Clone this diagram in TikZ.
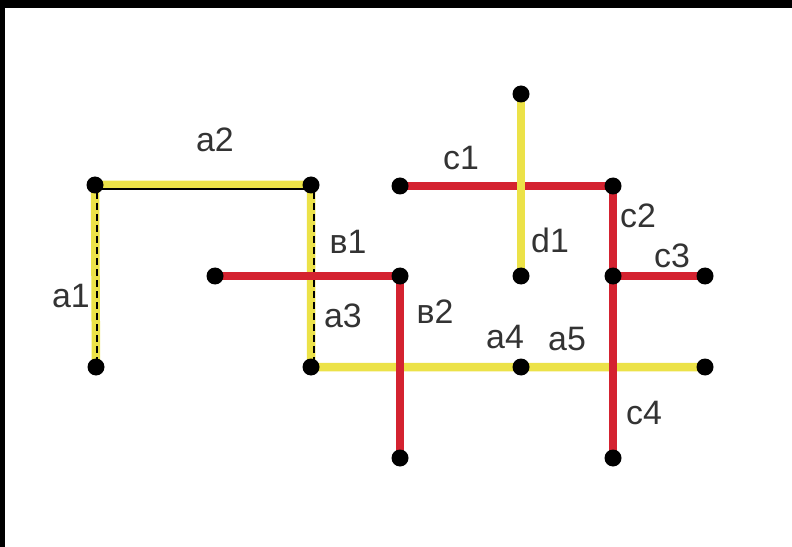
\documentclass[tikz,border=0pt]{standalone}
\usepackage{fontspec}
\setmainfont{Liberation Sans}
\definecolor{ylw}{RGB}{236,226,72}
\definecolor{rd}{RGB}{212,34,48}
\tikzset{
  yline/.style={draw=ylw,line width=8.5bp},
  rline/.style={draw=rd,line width=8.5bp},
  thinblack/.style={draw=black,line width=1.8bp},
  dashblack/.style={draw=black,line width=1.4bp,dash pattern=on 7bp off 4bp},
  dot/.style={circle,fill=black,inner sep=0pt,minimum size=17bp},
  lbl/.style={font=\fontsize{34}{34}\selectfont,inner sep=0pt,text=black!80}
}
\begin{document}
\begin{tikzpicture}[x=1bp,y=-1bp]
\useasboundingbox (0,0) rectangle (792,547);
\fill[white] (0,0) rectangle (792,547);
\fill[black] (0,0) rectangle (792,8);
\fill[black] (0,0) rectangle (5,547);
% points
\coordinate (A) at (95,185);
\coordinate (B) at (311,185);
\coordinate (C) at (96,367);
\coordinate (D) at (311,367);
\coordinate (E) at (521,367);
\coordinate (F) at (705,367);
\coordinate (G) at (521,94);
\coordinate (H) at (521,276);
\coordinate (I) at (400,186);
\coordinate (J) at (613,186);
\coordinate (K) at (613,276);
\coordinate (L) at (705,276);
\coordinate (M) at (613,458);
\coordinate (N) at (215,276);
\coordinate (O) at (400,276);
\coordinate (P) at (400,458);
% yellow a-path
\draw[yline] (C) -- (A) -- (B) -- (D) -- (F);
\draw[thinblack] ([xshift=6]A |- 0,189) -- ([xshift=-4]B |- 0,189);
\draw[dashblack] (97,192) -- (97,360);
\draw[dashblack] (314,192) -- (314,360);
% red paths
\draw[rline] (N) -- (O) -- (P);
\draw[rline] (I) -- (J) -- (M);
\draw[rline] (K) -- (L);
% d1
\draw[yline] (G) -- (H);
% dots
\foreach \p in {A,B,C,D,E,F,G,H,I,J,K,L,M,N,O,P}
  \node[dot] (d\p) at (\p) {};
% labels
\node[lbl] (la2) at (215,140) {a2};
\node[lbl] (la1) at (71,296) {a1};
\node[lbl] (lb1) at (348,242) {в1};
\node[lbl] (la3) at (343,316) {a3};
\node[lbl] (lb2) at (435,312) {в2};
\node[lbl] (lc1) at (461,158) {c1};
\node[lbl] (ld1) at (550,240) {d1};
\node[lbl] (lc2) at (638,216) {c2};
\node[lbl] (lc3) at (672,256) {c3};
\node[lbl] (la4) at (505,337) {a4};
\node[lbl] (la5) at (567,339) {a5};
\node[lbl] (lc4) at (644,413) {c4};
\end{tikzpicture}
\end{document}
